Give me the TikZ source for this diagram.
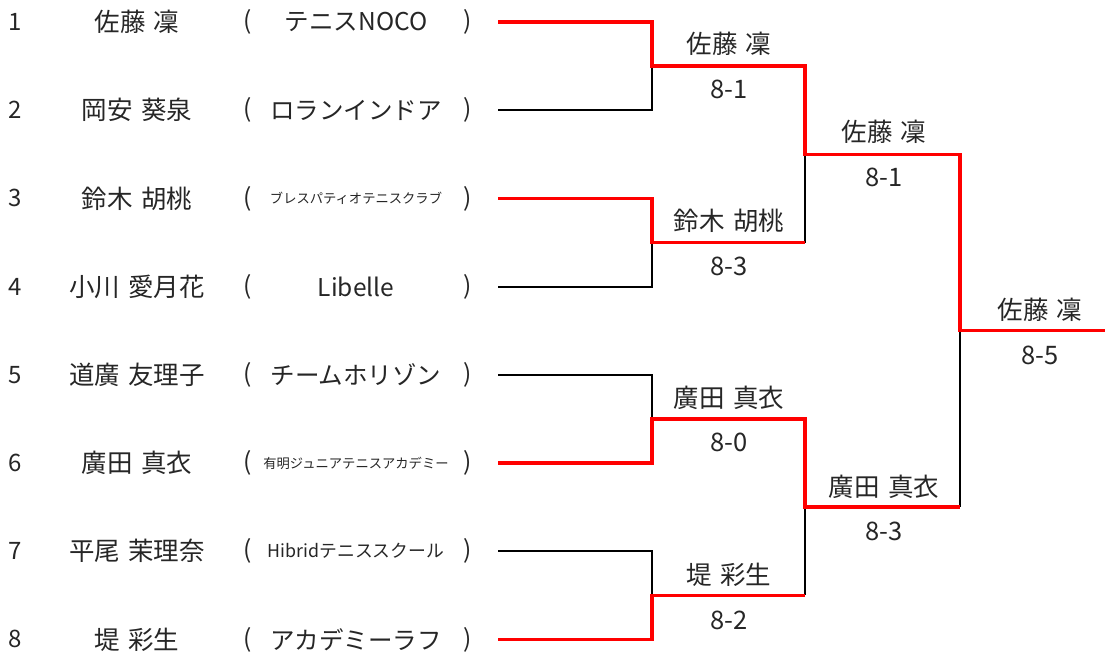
\documentclass[tikz,border=0pt]{standalone}
\usepackage{fontspec}
\setmainfont{Noto Sans CJK JP}
\definecolor{txt}{RGB}{38,38,38}
\definecolor{win}{RGB}{255,0,0}
\newcommand\jgap{\hspace{0.33em}}
\tikzset{
  lbl/.style={inner sep=0pt, text=txt, font=\fontsize{25.5}{28}\selectfont},
  num/.style={inner sep=0pt, text=txt, font=\fontsize{24}{26}\selectfont},
  club/.style={inner sep=0pt, text=txt, font=\fontsize{24.5}{27}\selectfont},
  small/.style={inner sep=0pt, text=txt, font=\fontsize{13.3}{15}\selectfont},
  mid/.style={inner sep=0pt, text=txt, font=\fontsize{17.8}{20}\selectfont},
  lose/.style={draw=black, line width=1.8pt},
  wins/.style={draw=win, line width=3.4pt},
}
\begin{document}
\begin{tikzpicture}[x=1pt,y=-1pt]
\useasboundingbox (0,0) rectangle (1105,656);
% rows
\foreach \i/\nm/\cl/\st in {
  1/{佐藤\jgap 凜}/{テニスNOCO}/club,
  2/{岡安\jgap 葵泉}/{ロランインドア}/club,
  3/{鈴木\jgap 胡桃}/{ブレスパティオテニスクラブ}/small,
  4/{小川\jgap 愛月花}/{Libelle}/club,
  5/{道廣\jgap 友理子}/{チームホリゾン}/club,
  6/{廣田\jgap 真衣}/{有明ジュニアテニスアカデミー}/small,
  7/{平尾\jgap 茉理奈}/{Hibridテニススクール}/mid,
  8/{堤\jgap 彩生}/{アカデミーラフ}/club} {
  \pgfmathsetmacro{\yy}{22+88.2*(\i-1)}
  \node[num] (n\i) at (15,\yy) {\i};
  \node[lbl] (nm\i) at (137,\yy) {\nm};
  \node[club] (lp\i) at (248,\yy) {(};
  \node[\st] (cl\i) at (356,\yy) {\cl};
  \node[club] (rp\i) at (468,\yy) {)};
  \coordinate (p\i) at (498,\yy);
}
% joints
\coordinate (a1) at (652,66.1);
\coordinate (a2) at (652,242.5);
\coordinate (a3) at (652,418.9);
\coordinate (a4) at (652,595.3);
\coordinate (b1) at (805,154.3);
\coordinate (b2) at (805,507.1);
\coordinate (c1) at (960,330.7);
\coordinate (w) at (1105,330.7);
% losers (black)
\draw[lose] (p2) -| (a1);
\draw[lose] (p4) -| (a2);
\draw[lose] (p5) -| (a3);
\draw[lose] (p7) -| (a4);
\draw[lose] (a2 -| b1) -- (b1);
\draw[lose] (a4 -| b2) -- (b2);
\draw[lose] (b2 -| c1) -- (c1);
% winners (red)
\draw[wins] (p1) -| (a1) -- (a1 -| b1) -- (b1) -- (b1 -| c1) -- (c1) -- (w);
\draw[wins] (p3) -| (a2) -- (a2 -| b1);
\draw[wins] (p6) -| (a3) -- (a3 -| b2) -- (b2) -- (b2 -| c1);
\draw[wins] (p8) -| (a4) -- (a4 -| b2);
% results
\node[lbl] (w1) at (729,44) {佐藤\jgap 凜};
\node[lbl] (s1) at (729,89) {8-1};
\node[lbl] (w2) at (729,221) {鈴木\jgap 胡桃};
\node[lbl] (s2) at (729,266) {8-3};
\node[lbl] (w3) at (729,398) {廣田\jgap 真衣};
\node[lbl] (s3) at (729,442) {8-0};
\node[lbl] (w4) at (729,575) {堤\jgap 彩生};
\node[lbl] (s4) at (729,620) {8-2};
\node[lbl] (w5) at (884,132) {佐藤\jgap 凜};
\node[lbl] (s5) at (884,177) {8-1};
\node[lbl] (w6) at (884,487) {廣田\jgap 真衣};
\node[lbl] (s6) at (884,531) {8-3};
\node[lbl] (w7) at (1040,310) {佐藤\jgap 凜};
\node[lbl] (s7) at (1040,355) {8-5};
\end{tikzpicture}
\end{document}
